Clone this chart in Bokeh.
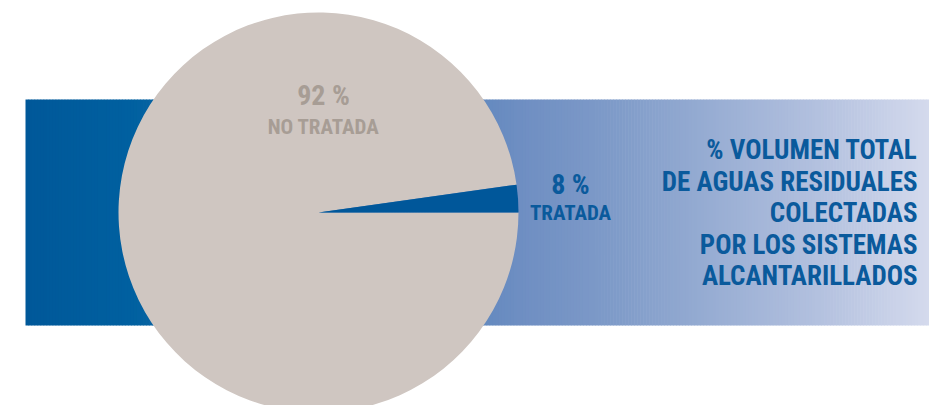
from bokeh.plotting import figure
from bokeh.models import Range1d
from bokeh.embed import file_html
from bokeh.resources import INLINE
from bokeh.core.properties import value
import numpy as np

# ---- data ----
categories = ["NO TRATADA", "TRATADA"]
percentages = [92, 8]
pct_labels = ["92 %", "8 %"]
title_lines = ["% VOLUMEN TOTAL", "DE AGUAS RESIDUALES", "COLECTADAS",
               "POR LOS SISTEMAS", "ALCANTARILLADOS"]

# ---- styling ----
FONT = "'Roboto Condensed', 'Noto Sans Condensed', 'Liberation Sans Narrow', sans-serif"
GRAY_SLICE = "#cfc6c1"
BLUE_SLICE = "#00579a"
GRAY_TEXT = "#a79d95"
BLUE_TEXT = "#0a5a9c"

W, H = 929, 405
p = figure(width=W, height=H, output_backend="svg", toolbar_location=None,
           x_range=Range1d(0, W), y_range=Range1d(0, H),
           min_border=0, background_fill_color="white", border_fill_color="white")
p.axis.visible = False
p.grid.visible = False
p.outline_line_color = None

def Y(yref):
    return 405 - yref

# ---- banner with horizontal gradient ----
stops_x = [25, 130, 518, 620, 829, 929]
stops_c = ["#005899", "#0060a0", "#6e8ec2", "#809cc9", "#b6c3e0", "#d4daed"]
def hex2rgb(h):
    return np.array([int(h[i:i + 2], 16) for i in (1, 3, 5)], dtype=float)
rgbs = np.array([hex2rgb(c) for c in stops_c])
n = 300
edges = np.linspace(25, 929, n + 1)
mids = (edges[:-1] + edges[1:]) / 2
cols = []
for m in mids:
    r = np.interp(m, stops_x, rgbs[:, 0])
    g = np.interp(m, stops_x, rgbs[:, 1])
    b = np.interp(m, stops_x, rgbs[:, 2])
    cols.append("#%02x%02x%02x" % (int(round(r)), int(round(g)), int(round(b))))
p.quad(left=edges[:-1], right=edges[1:] + 0.6, bottom=Y(325), top=Y(99),
       fill_color=cols, line_color=None)

# ---- pie ----
cx, cy, rad = 318, Y(212), 200
blue_end = percentages[1]  # slice drawn as in the source graphic
p.wedge(x=cx, y=cy, radius=rad, start_angle=blue_end, end_angle=360,
        start_angle_units="deg", end_angle_units="deg",
        fill_color=GRAY_SLICE, line_color=None)
p.wedge(x=cx, y=cy, radius=rad, start_angle=0, end_angle=blue_end,
        start_angle_units="deg", end_angle_units="deg",
        fill_color=BLUE_SLICE, line_color=None)

# ---- slice labels ----
p.text(x=[323, 570], y=[Y(95), Y(184)], text=pct_labels,
       text_font=value(FONT), text_font_style="bold", text_font_size="28px",
       text_color=[GRAY_TEXT, BLUE_TEXT], text_align="center",
       text_baseline="alphabetic")
p.text(x=[323, 570], y=[Y(126), Y(212)], text=categories,
       text_font=value(FONT), text_font_style="bold", text_font_size="21px",
       text_color=[GRAY_TEXT, BLUE_TEXT], text_align="center",
       text_baseline="alphabetic")

# ---- right title ----
base = [149.5, 181, 212.5, 244, 275.5]
p.text(x=[917] * len(title_lines), y=[Y(b) for b in base], text=title_lines,
       text_font=value(FONT), text_font_style="bold", text_font_size="27px",
       text_color=BLUE_TEXT, text_align="right", text_baseline="alphabetic")

open("out.html", "w").write(file_html(p, INLINE))
